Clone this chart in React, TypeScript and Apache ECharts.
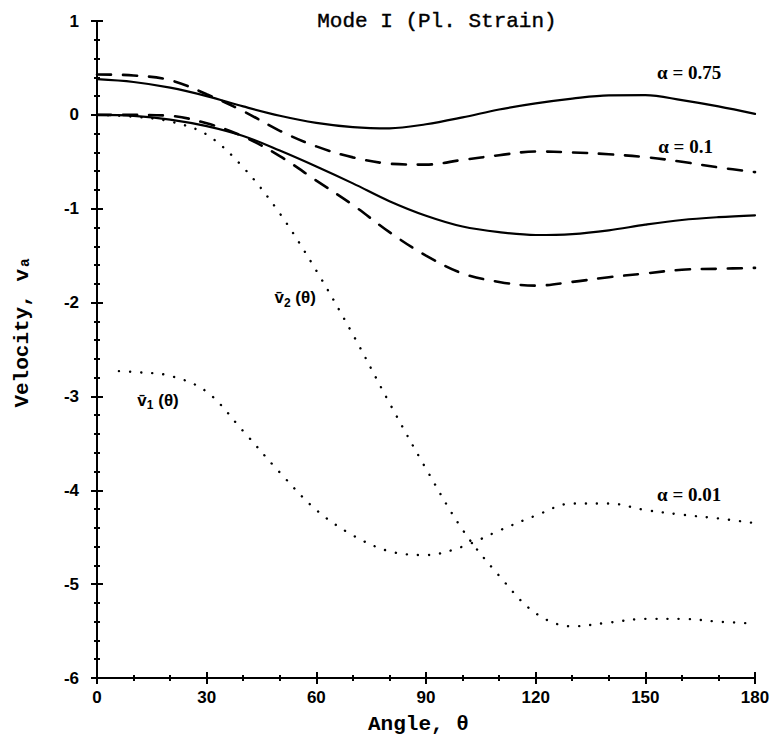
import React, { useEffect, useRef } from "react";
import * as echarts from "echarts";

const angles = [0, 10, 20, 30, 40, 50, 60, 70, 80, 90, 100, 110, 120, 130, 140, 150, 160, 170, 180];
const v1Angles = [6, 10, 20, 30, 40, 50, 60, 70, 80, 90, 100, 110, 120, 130, 140, 150, 160, 170, 180];

// alpha = 0.75 (solid)
const solidV1 = [0.38, 0.35, 0.29, 0.2, 0.09, -0.01, -0.085, -0.13, -0.143, -0.1, -0.027, 0.057, 0.122, 0.173, 0.208, 0.21, 0.157, 0.09, 0.01];
const solidV2 = [0, -0.01, -0.05, -0.12, -0.225, -0.38, -0.55, -0.73, -0.92, -1.075, -1.19, -1.25, -1.28, -1.27, -1.23, -1.17, -1.12, -1.09, -1.07];
// alpha = 0.1 (dashed)
const dashedV1 = [0.43, 0.42, 0.37, 0.22, 0.04, -0.17, -0.336, -0.453, -0.52, -0.53, -0.48, -0.43, -0.39, -0.4, -0.42, -0.45, -0.5, -0.56, -0.61];
const dashedV2 = [0, 0, -0.01, -0.09, -0.23, -0.44, -0.7, -0.96, -1.25, -1.5, -1.69, -1.78, -1.82, -1.78, -1.73, -1.69, -1.65, -1.64, -1.63];
// alpha = 0.01 (dotted)
const dottedV1 = [-2.73, -2.74, -2.78, -2.95, -3.37, -3.81, -4.21, -4.48, -4.65, -4.69, -4.6, -4.43, -4.27, -4.14, -4.14, -4.21, -4.26, -4.3, -4.35];
const dottedV2 = [0, -0.02, -0.07, -0.21, -0.56, -1.05, -1.66, -2.34, -3.07, -3.77, -4.42, -4.91, -5.31, -5.45, -5.41, -5.37, -5.37, -5.4, -5.42];

const annotations = [
  { text: "{a|α = 0.75}", x: 162, y: 0.446 },
  { text: "{a|α = 0.1}", x: 161, y: -0.332 },
  { text: "{a|α = 0.01}", x: 162, y: -4.05 },
  { text: "{v|v̄}{s|2}{v| (θ)}", x: 54.2, y: -1.95 },
  { text: "{v|v̄}{s|1}{v| (θ)}", x: 16.7, y: -3.04 },
];

const titleText = "Mode I (Pl. Strain)";
const xName = "Angle, θ";
const yName = "Velocity, vₐ";

const pair = (xs: number[], ys: number[]) => xs.map((x, i) => [x, ys[i]]);

export default function App() {
  const ref = useRef<HTMLDivElement>(null);
  useEffect(() => {
    if (!ref.current) return;
    const chart = echarts.init(ref.current, null, { renderer: "svg" });
    const black = "#000";
    const tickFont = { color: black, fontFamily: "Liberation Sans", fontWeight: "bold" as const, fontSize: 17 };
    const mono = "Liberation Mono";
    const lineBase = (name: string, data: number[][], type: any, width: number) => ({
      name,
      type: "line",
      data,
      xAxisIndex: 0,
      yAxisIndex: 0,
      showSymbol: false,
      symbol: "none",
      smooth: 0.35,
      lineStyle: { color: black, width, type, cap: "round" },
      z: 3,
    });
    chart.setOption({
      animation: false,
      backgroundColor: "#fff",
      grid: { left: 97, right: 26, top: 21, bottom: 68 },
      xAxis: [
        {
          type: "value",
          min: 0,
          max: 180,
          interval: 30,
          axisLine: { show: true, onZero: false, lineStyle: { color: black, width: 2 } },
          axisTick: { show: true, length: 6, lineStyle: { color: black, width: 2 } },
          minorTick: { show: true, splitNumber: 3, length: 3, lineStyle: { color: black, width: 2 } },
          splitLine: { show: false },
          axisLabel: { ...tickFont, margin: 11 },
        },
        {
          type: "value",
          min: 0,
          max: 180,
          interval: 30,
          position: "bottom",
          axisLine: { show: false, onZero: false },
          axisTick: { show: true, inside: true, length: 6, lineStyle: { color: black, width: 2 } },
          minorTick: { show: true, splitNumber: 3, length: 3, lineStyle: { color: black, width: 2 } },
          splitLine: { show: false },
          axisLabel: { show: false },
        },
      ],
      yAxis: [
        {
          type: "value",
          min: -6,
          max: 1,
          interval: 1,
          axisLine: { show: true, onZero: false, lineStyle: { color: black, width: 2 } },
          axisTick: { show: true, length: 6, lineStyle: { color: black, width: 2 } },
          minorTick: { show: true, splitNumber: 5, length: 3, lineStyle: { color: black, width: 2 } },
          splitLine: { show: false },
          axisLabel: { ...tickFont, margin: 18 },
        },
        {
          type: "value",
          min: -6,
          max: 1,
          interval: 1,
          position: "left",
          axisLine: { show: false, onZero: false },
          axisTick: { show: true, inside: true, length: 6, lineStyle: { color: black, width: 2 } },
          minorTick: { show: true, splitNumber: 5, length: 3, lineStyle: { color: black, width: 2 } },
          splitLine: { show: false },
          axisLabel: { show: false },
        },
      ],
      series: [
        lineBase("α = 0.75 v1", pair(angles, solidV1), "solid", 2.2),
        lineBase("α = 0.75 v2", pair(angles, solidV2), "solid", 2.2),
        lineBase("α = 0.1 v1", pair(angles, dashedV1), [14, 12], 2.6),
        lineBase("α = 0.1 v2", pair(angles, dashedV2), [14, 12], 2.6),
        lineBase("α = 0.01 v1", pair(v1Angles, dottedV1), [0.1, 11], 2.4),
        lineBase("α = 0.01 v2", pair(angles, dottedV2), [0.1, 11], 2.4),
        {
          name: "labels",
          type: "scatter",
          xAxisIndex: 0,
          yAxisIndex: 0,
          symbolSize: 0.1,
          itemStyle: { color: "#fff", opacity: 1 },
          silent: true,
          z: 5,
          data: annotations.map((a) => ({
            value: [a.x, a.y],
            label: {
              show: true,
              position: "inside",
              formatter: a.text,
              color: black,
              opacity: 1,
              rich: {
                a: { color: black, fontFamily: "Liberation Serif", fontWeight: "bold", fontSize: 19, lineHeight: 22 },
                v: { color: black, fontFamily: "Liberation Sans", fontWeight: "bold", fontSize: 17, lineHeight: 22 },
                s: { color: black, fontFamily: "Liberation Sans", fontWeight: "bold", fontSize: 12, lineHeight: 8, verticalAlign: "bottom" },
              },
            },
          })),
        },
      ],
      graphic: [
        {
          type: "text",
          left: 441 - 124,
          top: 11,
          style: { text: titleText, fill: black, font: `normal 21px "${mono}"`, stroke: black, lineWidth: 0.4 },
        },
        {
          type: "text",
          left: 368,
          top: 714,
          style: { text: xName, fill: black, font: `bold 21px "${mono}"` },
        },
        {
          type: "text",
          x: 22,
          y: 332,
          rotation: Math.PI / 2,
          style: { text: yName, fill: black, font: `bold 21px "${mono}"`, textAlign: "center", textVerticalAlign: "middle" },
        },
      ],
    });
    return () => chart.dispose();
  }, []);
  return (
    <div
      ref={ref}
      style={{ position: "absolute", left: 0, top: 0, width: 781, height: 746, background: "#fff" }}
    />
  );
}
